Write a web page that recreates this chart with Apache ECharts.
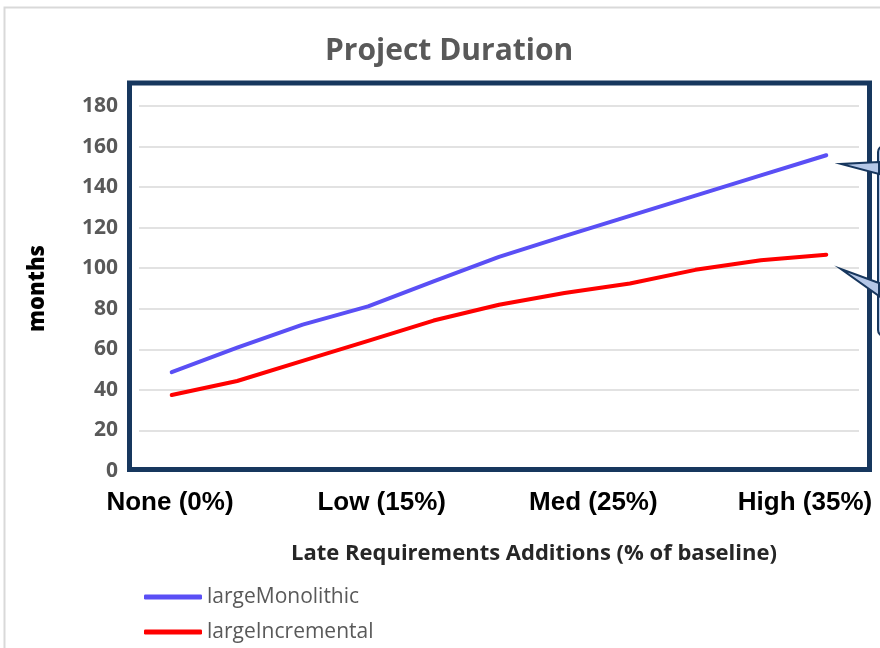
<!DOCTYPE html>
<html>
<head>
<meta charset="utf-8">
<script src="https://cdn.jsdelivr.net/npm/echarts@6/dist/echarts.min.js"></script>
<style>
  html, body { margin: 0; padding: 0; background: #ffffff; }
  #myChart { width: 880px; height: 648px; }
</style>
</head>
<body>
<div id="myChart"></div>
<script>
// steps along the x axis (0% .. 35% late additions)
var steps = ["0", "3.5", "7", "10.5", "14", "17.5", "21", "24.5", "28", "31.5", "35"];
var levelLabels = ["None (0%)", "Low (15%)", "Med (25%)", "High (35%)"];
var largeMonolithic = [48.7, 60.8, 72.2, 81.2, 93.5, 105.6, 115.8, 125.8, 135.8, 145.8, 155.7];
var largeIncremental = [37.5, 44.4, 54.3, 64.2, 74.2, 82, 87.8, 92.5, 99.2, 103.9, 106.7];

var myChart = echarts.init(document.getElementById("myChart"));
var option;

option = {
  animation: false,
  backgroundColor: "#ffffff",
  title: [
    {
      text: "Project Duration",
      left: 320,
      top: 31,
      textStyle: {
        fontFamily: "Open Sans",
        fontWeight: 700,
        fontSize: 30,
        color: "#595959",
      },
    },
    {
      text: "Late Requirements Additions (% of baseline)",
      left: 286,
      top: 538,
      textStyle: {
        fontFamily: "Open Sans",
        fontWeight: 700,
        fontSize: 22,
        color: "#262626",
      },
    },
  ],
  legend: {
    orient: "vertical",
    left: 144,
    top: 586,
    padding: 0,
    itemWidth: 58,
    itemHeight: 5,
    itemGap: 13,
    icon: "roundRect",
    textStyle: {
      fontFamily: "Open Sans",
      fontSize: 21,
      lineHeight: 22,
      color: "#595959",
    },
    data: ["largeMonolithic", "largeIncremental"],
  },
  grid: [
    { left: 139, right: 21, top: 106, bottom: 177, containLabel: false },
    { left: 170, right: 75, top: 106, bottom: 177, containLabel: false },
  ],
  xAxis: [
    {
      type: "category",
      gridIndex: 0,
      data: steps,
      boundaryGap: true,
      axisLine: { show: false },
      axisTick: { show: false },
      axisLabel: { show: false },
    },
    {
      type: "category",
      gridIndex: 1,
      data: levelLabels,
      boundaryGap: false,
      axisLine: { show: false },
      axisTick: { show: false },
      axisLabel: {
        margin: 19,
        fontFamily: "Liberation Sans",
        fontWeight: "bold",
        fontSize: 26,
        color: "#000000",
      },
    },
  ],
  yAxis: [
    {
      type: "value",
      gridIndex: 0,
      min: 0,
      max: 180,
      interval: 20,
      name: "months",
      nameLocation: "middle",
      nameRotate: 90,
      nameGap: 90,
      nameTextStyle: {
        fontFamily: "Open Sans",
        fontWeight: 800,
        fontSize: 22,
        color: "#000000",
      },
      axisLine: { show: false },
      axisTick: { show: false },
      axisLabel: {
        margin: 21,
        fontFamily: "Open Sans",
        fontWeight: 700,
        fontSize: 21,
        color: "#595959",
      },
      splitLine: { lineStyle: { color: "#d9d9d9", width: 1.5 } },
    },
    {
      type: "value",
      gridIndex: 1,
      show: false,
      min: 0,
      max: 180,
      splitLine: { show: false },
    },
  ],
  graphic: [
    {
      type: "rect",
      silent: true,
      shape: { x: 4.5, y: 7.5, width: 900, height: 700 },
      style: { fill: "none", stroke: "#d9d9d9", lineWidth: 2 },
      z: -1,
    },
    {
      type: "rect",
      silent: true,
      shape: { x: 129.5, y: 83, width: 740, height: 386.5 },
      style: { fill: "none", stroke: "#17375e", lineWidth: 5 },
      z: 100,
    },
    {
      type: "rect",
      silent: true,
      shape: { x: 878, y: 146, width: 40, height: 190, r: 6 },
      style: { fill: "#b4c7e7", stroke: "#17375e", lineWidth: 2 },
      z: 100,
    },
    {
      type: "polygon",
      silent: true,
      shape: { points: [[879, 162], [841, 164], [879, 174]] },
      style: { fill: "#b4c7e7", stroke: "#17375e", lineWidth: 2 },
      z: 101,
    },
    {
      type: "polygon",
      silent: true,
      shape: { points: [[879, 283], [841, 269], [879, 296]] },
      style: { fill: "#b4c7e7", stroke: "#17375e", lineWidth: 2 },
      z: 101,
    },
  ],
  series: [
    {
      name: "largeMonolithic",
      type: "line",
      xAxisIndex: 0,
      yAxisIndex: 0,
      symbol: "none",
      data: largeMonolithic,
      itemStyle: { color: "#5a4ff5" },
      lineStyle: { color: "#5a4ff5", width: 4, cap: "round", join: "round" },
    },
    {
      name: "largeIncremental",
      type: "line",
      xAxisIndex: 0,
      yAxisIndex: 0,
      symbol: "none",
      data: largeIncremental,
      itemStyle: { color: "#ff0000" },
      lineStyle: { color: "#ff0000", width: 4, cap: "round", join: "round" },
    },
  ],
};

option && myChart.setOption(option);
</script>
</body>
</html>
